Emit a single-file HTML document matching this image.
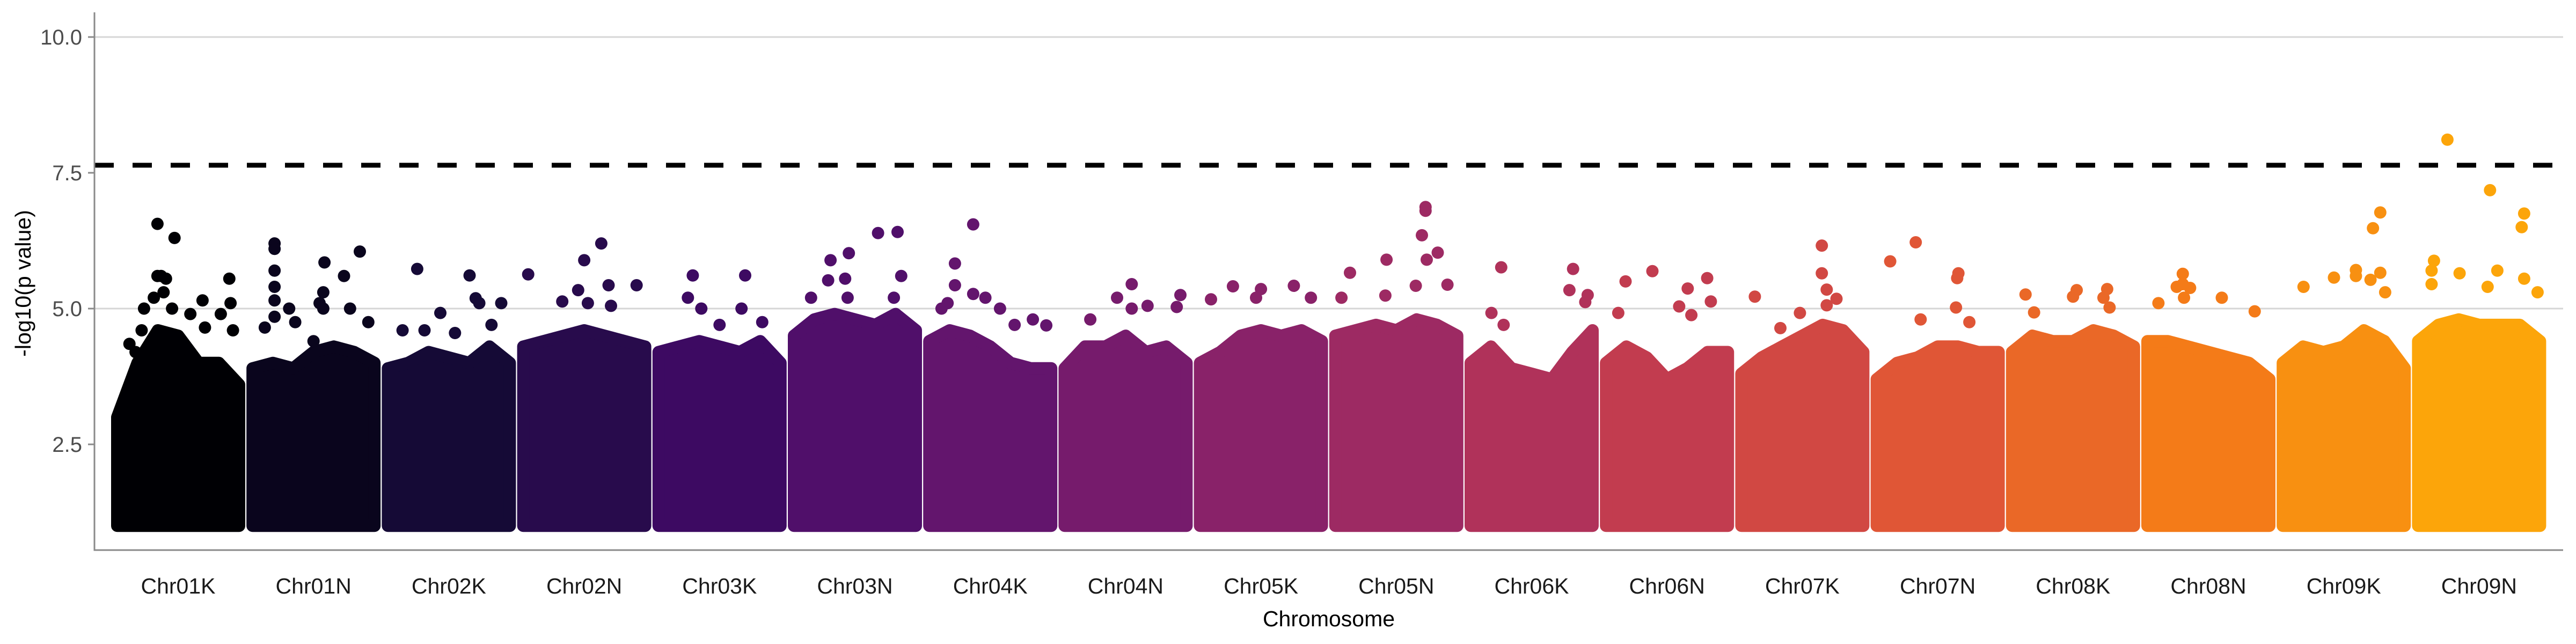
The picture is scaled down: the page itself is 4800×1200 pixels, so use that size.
<!DOCTYPE html>
<html><head><meta charset="utf-8"><style>
html,body{margin:0;padding:0;background:#fff;}
svg{display:block;}
text{font-family:"Liberation Sans",sans-serif;}
</style></head><body>
<svg id="chart" width="4800" height="1200" viewBox="0 0 4800 1200" xmlns="http://www.w3.org/2000/svg">
<rect width="4800" height="1200" fill="#fff"/>
<g id="grid"></g>
<g id="masses"></g>
<g id="points"></g>
<g id="thresh"></g>
<g id="axes"></g>
</svg>
<script>
const chromosomes = ["Chr01K","Chr01N","Chr02K","Chr02N","Chr03K","Chr03N","Chr04K","Chr04N","Chr05K","Chr05N","Chr06K","Chr06N","Chr07K","Chr07N","Chr08K","Chr08N","Chr09K","Chr09N"];
const yTicks = [2.5, 5.0, 7.5, 10.0];
const yTickLabels = ["2.5","5.0","7.5","10.0"];
const gridValues = [5.0, 10.0];
const threshold = 7.64;
const baseValue = 1.0;
// upper edge of dense point cloud, 7 samples along each chromosome
const envelopes = [
 [3.0,4.0,4.6,4.5,4.0,4.0,3.6],
 [3.9,4.0,3.9,4.2,4.3,4.2,4.0],
 [3.9,4.0,4.2,4.1,4.0,4.3,4.0],
 [4.3,4.4,4.5,4.6,4.5,4.4,4.3],
 [4.2,4.3,4.4,4.3,4.2,4.4,4.0],
 [4.5,4.8,4.9,4.8,4.7,4.9,4.6],
 [4.4,4.6,4.5,4.3,4.0,3.9,3.9],
 [3.9,4.3,4.3,4.5,4.2,4.3,4.0],
 [4.0,4.2,4.5,4.6,4.5,4.6,4.4],
 [4.5,4.6,4.7,4.6,4.8,4.7,4.5],
 [4.0,4.3,3.9,3.8,3.7,4.2,4.6],
 [4.0,4.3,4.1,3.7,3.9,4.2,4.2],
 [3.8,4.1,4.3,4.5,4.7,4.6,4.2],
 [3.7,4.0,4.1,4.3,4.3,4.2,4.2],
 [4.2,4.5,4.4,4.4,4.6,4.5,4.3],
 [4.4,4.4,4.3,4.2,4.1,4.0,3.7],
 [4.0,4.3,4.2,4.3,4.6,4.4,3.9],
 [4.4,4.7,4.8,4.7,4.7,4.7,4.4]
];
// outlier points: [position fraction within chromosome, -log10 p]
const outliers = [
 [[0.1,4.35],[0.15,4.2],[0.2,4.6],[0.22,5.0],[0.3,5.2],[0.33,5.6],[0.36,5.6],[0.38,5.3],[0.4,5.55],[0.45,5.0],[0.33,6.56],[0.47,6.3],[0.6,4.9],[0.7,5.15],[0.72,4.65],[0.85,4.9],[0.92,5.55],[0.93,5.1],[0.95,4.6]],
 [[0.18,6.2],[0.18,6.1],[0.18,5.7],[0.18,5.4],[0.18,5.15],[0.18,4.85],[0.1,4.65],[0.3,5.0],[0.35,4.75],[0.55,5.1],[0.58,5.3],[0.58,5.0],[0.59,5.85],[0.75,5.6],[0.8,5.0],[0.88,6.05],[0.95,4.75],[0.5,4.4]],
 [[0.24,5.73],[0.67,5.61],[0.43,4.92],[0.72,5.19],[0.75,5.1],[0.93,5.1],[0.12,4.6],[0.3,4.6],[0.55,4.55],[0.85,4.7]],
 [[0.04,5.63],[0.64,6.2],[0.5,5.89],[0.7,5.43],[0.93,5.43],[0.45,5.34],[0.32,5.13],[0.53,5.1],[0.72,5.05]],
 [[0.28,5.61],[0.71,5.61],[0.24,5.2],[0.35,5.0],[0.68,5.0],[0.5,4.7],[0.85,4.75]],
 [[0.69,6.39],[0.85,6.41],[0.45,6.02],[0.3,5.89],[0.28,5.52],[0.42,5.55],[0.88,5.6],[0.14,5.2],[0.44,5.2],[0.82,5.2]],
 [[0.21,5.83],[0.21,5.43],[0.36,6.55],[0.36,5.27],[0.46,5.2],[0.58,5.0],[0.96,4.69],[0.1,5.0],[0.15,5.1],[0.7,4.7],[0.85,4.8]],
 [[0.55,5.45],[0.43,5.2],[0.68,5.05],[0.55,5.0],[0.95,5.25],[0.92,5.03],[0.21,4.8]],
 [[0.09,5.17],[0.27,5.41],[0.5,5.36],[0.77,5.42],[0.46,5.2],[0.91,5.2]],
 [[0.74,6.87],[0.74,6.8],[0.71,6.35],[0.84,6.03],[0.75,5.9],[0.42,5.9],[0.12,5.66],[0.66,5.42],[0.92,5.44],[0.05,5.2],[0.41,5.24]],
 [[0.25,5.76],[0.17,4.92],[0.27,4.7],[0.84,5.73],[0.81,5.34],[0.96,5.25],[0.94,5.12]],
 [[0.16,5.5],[0.38,5.69],[0.67,5.37],[0.83,5.56],[0.86,5.13],[0.6,5.04],[0.1,4.92],[0.7,4.88]],
 [[0.66,6.16],[0.66,5.65],[0.7,5.35],[0.7,5.06],[0.78,5.18],[0.11,5.22],[0.48,4.92],[0.32,4.64]],
 [[0.32,6.22],[0.11,5.87],[0.67,5.65],[0.66,5.56],[0.65,5.02],[0.36,4.8],[0.76,4.75]],
 [[0.11,5.26],[0.53,5.34],[0.5,5.22],[0.78,5.36],[0.75,5.2],[0.8,5.02],[0.18,4.93]],
 [[0.29,5.64],[0.29,5.45],[0.24,5.4],[0.35,5.38],[0.3,5.2],[0.61,5.2],[0.88,4.95],[0.09,5.1]],
 [[0.8,6.77],[0.74,6.48],[0.6,5.71],[0.6,5.6],[0.42,5.57],[0.8,5.66],[0.72,5.53],[0.17,5.4],[0.84,5.3]],
 [[0.24,8.11],[0.59,7.18],[0.87,6.75],[0.85,6.5],[0.13,5.88],[0.11,5.7],[0.34,5.65],[0.65,5.7],[0.87,5.55],[0.57,5.4],[0.98,5.3],[0.11,5.45]]
];

const NS="http://www.w3.org/2000/svg";
const X0=176, X1=4776, YAX=1025;
const R=11.5;
function yScale(v){return 575-(v-5)*101.2;}
function blockStart(i){return 207+i*252.2+R;}
const blockW=250-2*R;
function xScale(i,f){return blockStart(i)+f*blockW;}
function labelX(i){return 207+i*252.2+125;}
const stops=[[0,"#000004"],[0.1,"#160b39"],[0.2,"#420a68"],[0.3,"#6a176e"],[0.4,"#932667"],[0.5,"#bc3754"],[0.6,"#dd513a"],[0.7,"#f37819"],[0.8,"#fca50a"],[0.9,"#f6d746"],[1,"#fcffa4"]];
function hex(h){return [1,3,5].map(k=>parseInt(h.substr(k,2),16));}
function inferno(t){for(let k=0;k<stops.length-1;k++){const a=stops[k],b=stops[k+1];if(t<=b[0]){const u=(t-a[0])/(b[0]-a[0]);const ca=hex(a[1]),cb=hex(b[1]);return "rgb("+ca.map((c,j)=>Math.round(c+(cb[j]-c)*u)).join(",")+")";}}return stops[stops.length-1][1];}
function colorOf(i){return inferno(i/(chromosomes.length-1)*0.8);}
function mk(tag,attrs,parent){const e=document.createElementNS(NS,tag);for(const k in attrs)e.setAttribute(k,attrs[k]);parent.appendChild(e);return e;}

const grid=document.getElementById('grid');
gridValues.forEach(v=>{
 const l=mk('line',{x1:X0,x2:X1,y1:yScale(v),y2:yScale(v),stroke:'#d6d6d6','stroke-width':3},grid);
 
 
});

const masses=document.getElementById('masses');
const pts=document.getElementById('points');
chromosomes.forEach((c,i)=>{
 const col=colorOf(i);
 const env=envelopes[i];
 let p=[];
 env.forEach((v,k)=>{p.push(xScale(i,k/(env.length-1)).toFixed(1)+","+yScale(v).toFixed(1));});
 p.push(xScale(i,1).toFixed(1)+","+yScale(baseValue).toFixed(1));
 p.push(xScale(i,0).toFixed(1)+","+yScale(baseValue).toFixed(1));
 const poly=mk('polygon',{points:p.join(" "),fill:col,stroke:col,'stroke-width':2*R,'stroke-linejoin':'round'},masses);
 
 
 outliers[i].forEach((o,k)=>{
  const ci=mk('circle',{cx:xScale(i,o[0]).toFixed(1),cy:yScale(o[1]).toFixed(1),r:R,fill:col},pts);
  
  
 });
});

const th=document.getElementById('thresh');
const tl=mk('line',{x1:X0,x2:X1,y1:yScale(threshold),y2:yScale(threshold),stroke:'#000','stroke-width':9,'stroke-dasharray':'36 35'},th);



const ax=document.getElementById('axes');
const ya=mk('line',{x1:X0,x2:X0,y1:23,y2:YAX+1.5,stroke:'#8a8a8a','stroke-width':3},ax);


const xa=mk('line',{x1:X0-1.5,x2:X1,y1:YAX,y2:YAX,stroke:'#8a8a8a','stroke-width':3},ax);


yTicks.forEach((v,k)=>{
 const t=mk('line',{x1:X0-12,x2:X0,y1:yScale(v),y2:yScale(v),stroke:'#8a8a8a','stroke-width':3},ax);
 
 
 const tx=mk('text',{x:153,y:yScale(v)+14,'text-anchor':'end','font-size':40,fill:'#4d4d4d'},ax);
 tx.textContent=yTickLabels[k];
 
 
});
chromosomes.forEach((c,i)=>{
 const tx=mk('text',{x:labelX(i),y:1106,'text-anchor':'middle','font-size':41,fill:'#1a1a1a'},ax);
 tx.textContent=c;
 
 
});
const xt=mk('text',{x:2476,y:1167,'text-anchor':'middle','font-size':41,fill:'#000'},ax);
xt.textContent="Chromosome";


const yt=mk('text',{x:0,y:0,'text-anchor':'middle','font-size':41,fill:'#000',transform:'translate(57,528) rotate(-90)'},ax);
yt.textContent="-log10(p value)";


</script>
</body></html>
